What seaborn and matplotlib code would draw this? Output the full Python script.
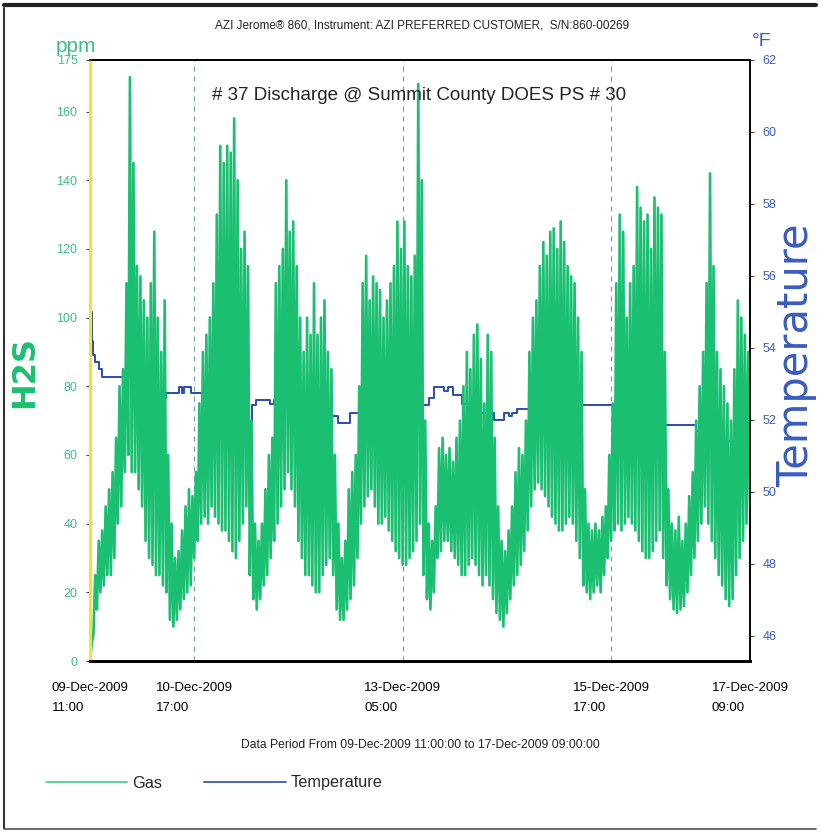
import numpy as np
import pandas as pd
import matplotlib
matplotlib.use("Agg")
import matplotlib.pyplot as plt
from matplotlib.lines import Line2D
import seaborn as sns

sns.set_theme(style="white")
plt.rcParams['font.family'] = ['Liberation Sans Narrow', 'Liberation Sans', 'DejaVu Sans']

# ---------------- data ----------------
# hourly envelope of the H2S gas trace, hours after 09-Dec-2009 11:00
gas_low = [
    0, 8, 15, 20, 22, 25, 25, 30, 40, 45,
    55, 60, 55, 55, 50, 45, 35, 30, 28, 25,
    25, 22, 20, 12, 10, 12, 15, 18, 20, 22,
    30, 35, 40, 42, 40, 45, 42, 40, 38, 38,
    35, 32, 30, 35, 40, 45, 25, 18, 15, 18,
    22, 25, 30, 35, 40, 45, 50, 55, 50, 45,
    35, 30, 25, 25, 22, 20, 20, 25, 28, 30,
    25, 15, 12, 12, 15, 18, 22, 30, 40, 45,
    48, 50, 45, 40, 40, 42, 38, 35, 32, 30,
    28, 28, 30, 32, 35, 40, 25, 18, 15, 20,
    30, 32, 35, 35, 32, 30, 28, 25, 25, 28,
    30, 28, 25, 22, 25, 22, 18, 14, 12, 10,
    14, 18, 22, 25, 28, 32, 38, 45, 50, 52,
    50, 48, 45, 42, 40, 38, 38, 40, 42, 40,
    35, 30, 22, 20, 18, 20, 22, 20, 25, 30,
    35, 38, 40, 38, 40, 42, 40, 38, 35, 32,
    30, 30, 32, 35, 38, 30, 22, 18, 15, 14,
    15, 16, 20, 25, 30, 35, 40, 45, 40, 35,
    30, 25, 22, 18, 16, 18, 25, 30, 35, 40,
    45,
]
gas_high = [
    5, 25, 35, 38, 45, 50, 55, 65, 80, 85,
    110, 170, 145, 115, 112, 105, 100, 110, 125, 100,
    90, 105, 60, 40, 30, 32, 38, 45, 50, 48,
    55, 75, 90, 95, 100, 110, 130, 150, 145, 150,
    148, 158, 140, 120, 125, 115, 70, 40, 35, 40,
    50, 60, 65, 110, 115, 120, 140, 125, 128, 115,
    100, 90, 100, 95, 110, 95, 100, 105, 90, 85,
    60, 40, 30, 35, 50, 55, 60, 80, 110, 118,
    105, 112, 110, 108, 100, 105, 110, 115, 128, 120,
    128, 115, 112, 118, 168, 140, 70, 40, 35, 45,
    62, 65, 60, 62, 58, 65, 70, 80, 90, 85,
    95, 98, 88, 75, 95, 90, 65, 45, 35, 32,
    38, 45, 55, 62, 60, 70, 90, 100, 105, 115,
    122, 118, 125, 126, 120, 128, 122, 115, 112, 110,
    100, 90, 50, 40, 38, 40, 38, 42, 45, 60,
    75, 110, 130, 125, 100, 110, 115, 138, 132, 128,
    130, 120, 135, 132, 130, 90, 50, 40, 38, 42,
    35, 40, 48, 55, 70, 80, 90, 110, 142, 115,
    90, 85, 80, 75, 70, 85, 105, 100, 95, 90,
    85,
]
# temperature steps (hours after start, deg F)
temp_hours = [0, 0.3, 0.6, 1.0, 1.5, 2.5, 3.5, 15, 22, 25.5, 26.5, 27, 29, 36,
              44.6, 46.6, 47.8, 51.8, 53, 55, 60, 71.4, 74.8, 80, 93.5, 95,
              97.6, 99, 102, 103, 104.5, 107, 110, 116.3, 119.2, 120.5, 121.5,
              122.9, 126.7, 165, 174.5, 182.2, 190]
temp_values = [56.7, 55.0, 54.2, 53.8, 53.6, 53.4, 53.2, 52.6, 52.75, 52.9, 52.75,
               52.9, 52.75, 52.3, 51.95, 52.4, 52.55, 52.45, 52.55, 52.3, 52.1,
               51.9, 52.2, 52.1, 51.85, 52.4, 52.6, 52.9, 52.8, 52.9, 52.7, 52.45,
               52.2, 52.0, 52.2, 52.1, 52.2, 52.3, 52.4, 51.85, 51.7, 51.4, 51.3]
tick_hours = [0, 30, 90, 150, 190]
tick_labels = ["09-Dec-2009\n11:00", "10-Dec-2009\n17:00", "13-Dec-2009\n05:00",
               "15-Dec-2009\n17:00", "17-Dec-2009\n09:00"]
ppm_ticks = [0, 20, 40, 60, 80, 100, 120, 140, 160, 175]
degf_ticks = [46, 48, 50, 52, 54, 56, 58, 60, 62]

# ---------------- build long-form tables ----------------
gas_t, gas_v = [], []
for h, (lo, hi) in enumerate(zip(gas_low, gas_high)):
    gas_t += [h, h + 0.5]
    gas_v += [lo, hi]
gas_df = pd.DataFrame({"hours": gas_t, "ppm": gas_v})
temp_df = pd.DataFrame({"hours": temp_hours, "degF": temp_values})

GAS = "#1bbf72"
TEMP = "#2a4cb0"
GAS_LBL = "#3cbf85"
TEMP_LBL = "#3a5cc0"

W, H = 821, 833
fig = plt.figure(figsize=(W / 100, H / 100), dpi=100)
fig.patch.set_facecolor("white")

L, R, T, B = 90, 750, 60, 661
ax2 = fig.add_axes([L / W, 1 - B / H, (R - L) / W, (B - T) / H])
ax = ax2.twinx()
# gas axis drawn on top of the temperature trace; gas scale on the left
ax.yaxis.tick_left()
ax2.yaxis.tick_right()
ax2.set_zorder(1)
ax.set_zorder(2)
ax.patch.set_visible(False)

sns.lineplot(data=temp_df, x="hours", y="degF", ax=ax2, color=TEMP, lw=1.4,
             estimator=None, sort=False, legend=False, drawstyle="steps-post")
sns.lineplot(data=gas_df, x="hours", y="ppm", ax=ax, color=GAS, lw=1.9,
             estimator=None, sort=False, legend=False)

ax.set_xlim(0, 190)
ax2.set_xlim(0, 190)
ax.set_ylim(0, 175)
ax2.set_ylim(45.3, 62)
for a in (ax, ax2):
    a.set_xlabel("")
    a.set_ylabel("")

for h in tick_hours[1:4]:
    ax2.axvline(h, color="#6fa897", lw=0.9, ls=(0, (4, 4)), zorder=0)

ax2.set_xticks(tick_hours)
ax2.set_xticklabels(tick_labels, fontsize=9.5, multialignment="left", linespacing=1.9)
ax2.tick_params(axis="x", direction="out", length=5, width=1, colors="black", pad=10)
ax.set_yticks(ppm_ticks)
ax.set_yticklabels([str(v) for v in ppm_ticks], fontsize=9, color=GAS_LBL)
ax.tick_params(axis="y", direction="out", length=3, width=0.8, color="#444444", pad=6,
               left=True, right=False, labelleft=True, labelright=False)
ax2.set_yticks(degf_ticks)
ax2.set_yticklabels([str(v) for v in degf_ticks], fontsize=9, color=TEMP_LBL)
ax2.tick_params(axis="y", direction="out", length=3, width=0.8, color="#444444", pad=6,
                left=False, right=True, labelleft=False, labelright=True)

for a in (ax, ax2):
    a.spines["top"].set_color("black")
    a.spines["top"].set_linewidth(1.2)
    a.spines["right"].set_color("black")
    a.spines["right"].set_linewidth(1.2)
    a.spines["bottom"].set_color("black")
    a.spines["bottom"].set_linewidth(2.0)
    a.spines["left"].set_color("#f2e33a")
    a.spines["left"].set_linewidth(2.2)
    a.grid(False)

# texts
fig.text(422 / W, 1 - 25 / H,
         "AZI Jerome® 860, Instrument: AZI PREFERRED CUSTOMER,  S/N:860-00269",
         ha="center", va="center", fontsize=8.5, color="#222222")
fig.text(419 / W, 1 - 96 / H, "# 37 Discharge @ Summit County DOES PS # 30",
         ha="center", va="center", fontsize=13.5, color="#222222")
fig.text(76 / W, 1 - 47 / H, "ppm", ha="center", va="center", fontsize=15, color=GAS_LBL)
fig.text(762 / W, 1 - 42 / H, "°F", ha="center", va="center", fontsize=14, color=TEMP_LBL)
fig.text(25 / W, 1 - 372 / H, "H2S", ha="center", va="center", rotation=90,
         fontsize=23, color=GAS, family="DejaVu Sans", fontweight="bold")
fig.text(796 / W, 1 - 355 / H, "Temperature", ha="center", va="center", rotation=90,
         fontsize=30, color=TEMP_LBL, family="DejaVu Sans")
fig.text(420 / W, 1 - 745 / H,
         "Data Period From 09-Dec-2009 11:00:00 to 17-Dec-2009 09:00:00",
         ha="center", va="center", fontsize=8.7, color="#222222")

handles = [Line2D([], [], color="#3ccf90", lw=1.2), Line2D([], [], color=TEMP, lw=1.2)]
fig.legend(handles, ["Gas", "Temperature"], loc="center left",
           bbox_to_anchor=(46 / W, 1 - 783 / H), ncol=2, frameon=False,
           fontsize=11.7, handlelength=5.0, handletextpad=0.3, columnspacing=2.6,
           borderpad=0, borderaxespad=0)

# scanned page border
fig.add_artist(Line2D([4 / W, 4 / W], [1 - 8 / H, 1 - 828 / H], color="#333333", lw=1.5))
fig.add_artist(Line2D([4 / W, 816 / W], [1 - 5 / H, 1 - 5 / H], color="#222222", lw=3))
fig.add_artist(Line2D([4 / W, 816 / W], [1 - 829 / H, 1 - 829 / H], color="#555555", lw=1.2))

fig.savefig("out.png", dpi=100, facecolor="white")
